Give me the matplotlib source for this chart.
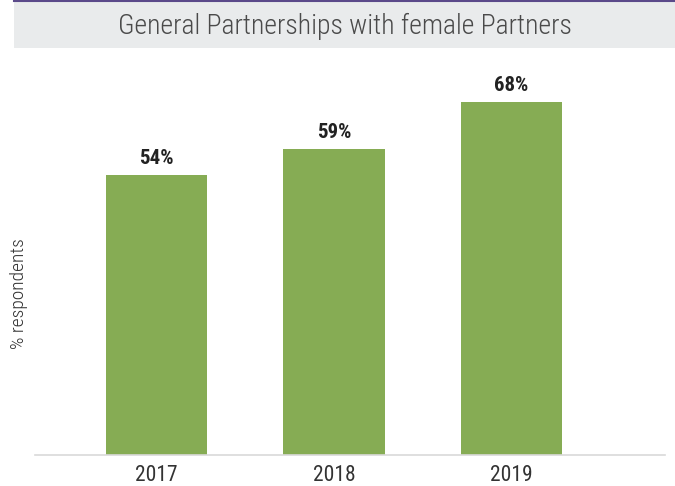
import matplotlib
matplotlib.use("Agg")
import matplotlib.pyplot as plt
from matplotlib.patches import Rectangle
from matplotlib.lines import Line2D

years = ["2017", "2018", "2019"]
shares = [54, 59, 68]
title = "General Partnerships with female Partners"
ylabel = "% respondents"

plt.rcParams['font.family'] = ['Roboto Condensed', 'DejaVu Sans']

fig = plt.figure(figsize=(6.75, 4.86), dpi=100)
W, H = 675, 486

# title band
fig.patches.append(Rectangle((14 / W, 1 - 48 / H), 1 - 14 / W, 46 / H,
                             transform=fig.transFigure, facecolor="#e9ebec",
                             edgecolor="none", zorder=0))
fig.lines.append(Line2D([14 / W, 1], [1 - 1.5 / H, 1 - 1.5 / H],
                        transform=fig.transFigure, color="#5b4a8a", lw=1.5))
fig.text(0.5 * (1 + 14 / W), 1 - 26 / H, title, ha="center", va="center",
         fontsize=20, color="#4a4a4a", fontweight=300)

ax = fig.add_axes([35 / W, 1 - 455 / H, 630 / W, (455 - 48) / H])
x = range(len(years))
bars = ax.bar(x, shares, width=0.57, color="#86ac54")
for xi, v in zip(x, shares):
    ax.text(xi, v + 1.3, f"{v}%", ha="center", va="bottom",
            fontsize=15, fontweight="bold", color="#222222")

ax.set_xlim(-0.685, 2.865)
ax.set_ylim(0, (455 - 48) / 5.19)
ax.set_xticks(list(x))
ax.set_xticklabels(years, fontsize=15.5, color="#333333")
ax.tick_params(axis="x", length=0, pad=7)
ax.set_yticks([])
for s in ["top", "right", "left"]:
    ax.spines[s].set_visible(False)
ax.spines["bottom"].set_color("#d9d9d9")
ax.spines["bottom"].set_linewidth(1.2)
ax.patch.set_alpha(0)

fig.text(19 / W, 1 - 294 / H, ylabel, rotation=90, ha="center", va="center",
         fontsize=14, color="#333333", fontweight=300)

fig.savefig("out.png", dpi=100)
